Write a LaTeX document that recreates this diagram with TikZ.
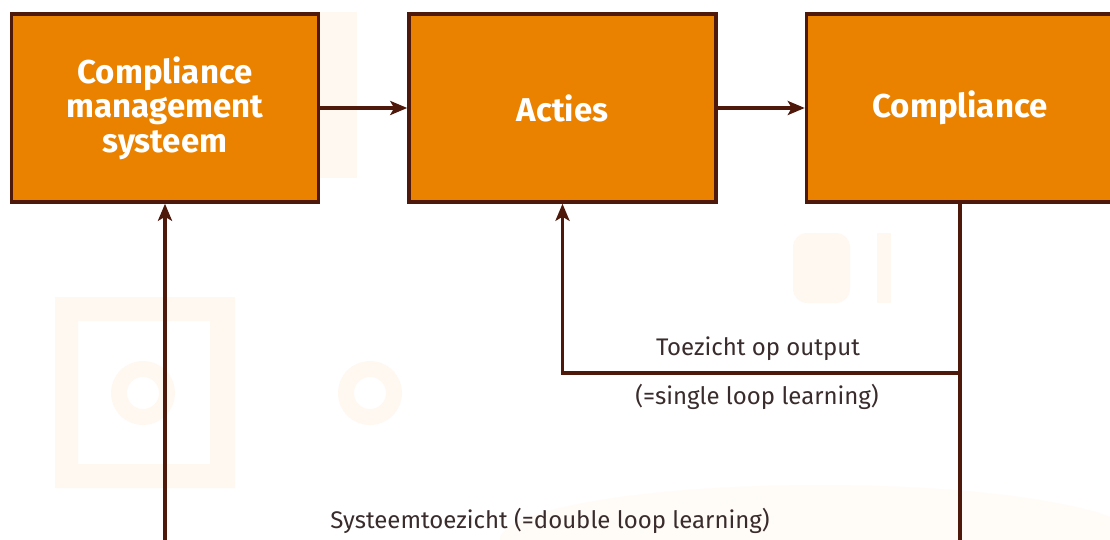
\documentclass[tikz,border=0pt]{standalone}
\usepackage{fontspec}
\setmainfont{Fira Sans}
\usetikzlibrary{arrows.meta}
\definecolor{boxorange}{RGB}{234,130,0}
\definecolor{darkbrown}{RGB}{78,24,10}
\definecolor{labelgray}{RGB}{58,44,44}
\definecolor{wmark}{RGB}{255,248,241}
\definecolor{wmarklight}{RGB}{255,251,247}
\tikzset{
  stepbox/.style={draw=darkbrown, line width=3.5pt, fill=boxorange, minimum width=307pt, minimum height=188pt, inner sep=0pt, text=white, font=\fontsize{33}{34.5}\selectfont\bfseries, align=center},
  conn/.style={draw=darkbrown, line width=3.5pt, -{Stealth[length=17pt,width=14pt,inset=4pt]}},
  plainline/.style={draw=darkbrown, line width=3.5pt},
  lbl/.style={text=labelgray, font=\fontsize{24}{28}\selectfont, inner sep=0pt},
  wm/.style={fill=wmark, draw=none}
}
\begin{document}
\begin{tikzpicture}[x=1pt,y=-1pt]
\clip (0,0) rectangle (1110,540);
\fill[white] (0,0) rectangle (1110,540);
% faint watermark shapes
\fill[wm] (320,12) rectangle (357,178);
\fill[wm, even odd rule] (55,297) rectangle (235,488) (78,321) rectangle (210,464);
\fill[wm, even odd rule] (143,393) circle (32) (143,393) circle (16);
\fill[wm, even odd rule] (370,393) circle (32) (370,393) circle (16);
\fill[wm, rounded corners=14pt] (793,233) rectangle (850,303);
\fill[wm] (877,233) rectangle (891,303);
\fill[wmarklight] (820,540) ellipse (320 and 55);
% boxes
\node[stepbox] (b1) at (165,108) {Compliance\\management\\systeem};
\node[stepbox] (b2) at (562.5,108) {Acties};
\node[stepbox] (b3) at (960,108) {Compliance};
% connectors
\coordinate (j) at (960,373);
\coordinate (e3) at (960,548);
\coordinate (e1) at (165,548);
\draw[conn] (b1.east) -- (b2.west);
\draw[conn] (b2.east) -- (b3.west);
\draw[plainline] (b3.south) -- (e3);
\draw[conn] (j) -| (b2.south);
\draw[conn] (e1) -- (b1.south);
% labels
\node[lbl] (t1) at (758,349) {Toezicht op output};
\node[lbl] (t2) at (757,397) {(=single loop learning)};
\node[lbl] (t3) at (550,521) {Systeemtoezicht (=double loop learning)};
\end{tikzpicture}
\end{document}
